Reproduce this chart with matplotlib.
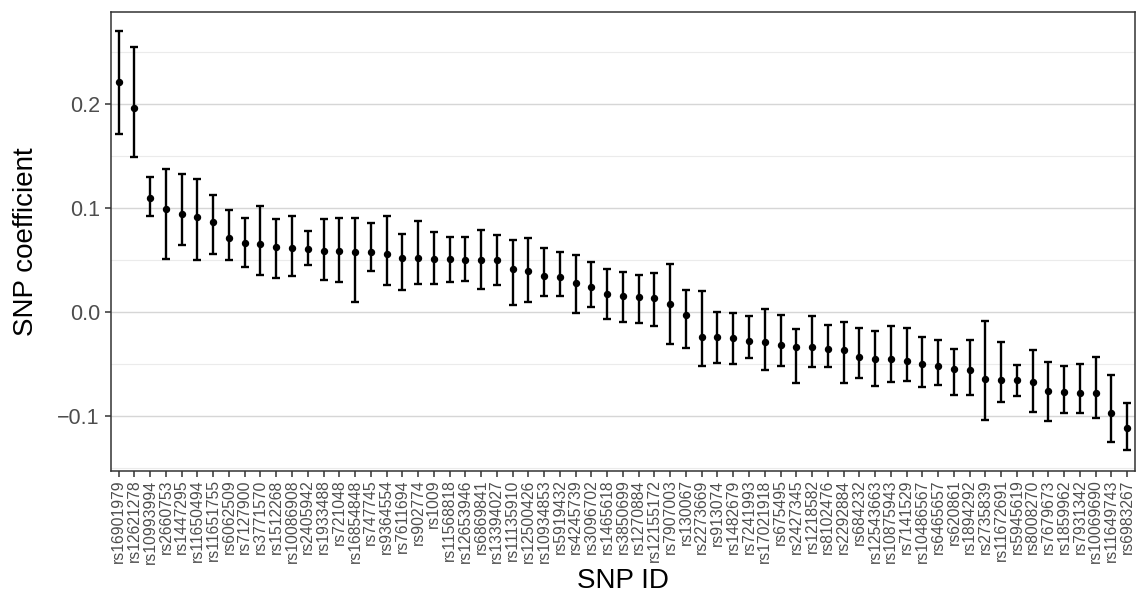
import matplotlib
matplotlib.use("Agg")
import matplotlib.pyplot as plt
import numpy as np

plt.rcParams["font.family"] = ["Liberation Sans", "DejaVu Sans"]

snp_ids = [
    "rs16901979", "rs12621278", "rs10993994", "rs2660753", "rs1447295",
    "rs11650494", "rs11651755", "rs6062509", "rs7127900", "rs3771570",
    "rs1512268", "rs10086908", "rs2405942", "rs1933488", "rs721048",
    "rs16854848", "rs747745", "rs9364554", "rs7611694", "rs902774",
    "rs1009", "rs11568818", "rs12653946", "rs6869841", "rs13394027",
    "rs11135910", "rs12500426", "rs10934853", "rs5919432", "rs4245739",
    "rs3096702", "rs1465618", "rs3850699", "rs1270884", "rs12155172",
    "rs7907003", "rs130067", "rs2273669", "rs913074", "rs1482679",
    "rs7241993", "rs17021918", "rs675495", "rs2427345", "rs1218582",
    "rs8102476", "rs2292884", "rs684232", "rs12543663", "rs10875943",
    "rs7141529", "rs10486567", "rs6465657", "rs620861", "rs1894292",
    "rs2735839", "rs11672691", "rs5945619", "rs8008270", "rs7679673",
    "rs1859962", "rs7931342", "rs10069690", "rs11649743", "rs6983267",
]

# point estimates and 95% CI bounds
coef = [
    0.221, 0.196, 0.110, 0.099, 0.094, 0.091, 0.0865, 0.071, 0.066, 0.065,
    0.063, 0.0615, 0.061, 0.059, 0.0587, 0.058, 0.0574, 0.0554, 0.0516, 0.0516,
    0.0513, 0.0506, 0.0503, 0.050, 0.0497, 0.0414, 0.0395, 0.0347, 0.0341, 0.0283,
    0.0242, 0.0172, 0.0153, 0.0143, 0.0138, 0.0074, -0.0029, -0.024, -0.0244, -0.0253,
    -0.0276, -0.0292, -0.032, -0.0333, -0.034, -0.0359, -0.0362, -0.0436, -0.0452, -0.0455,
    -0.0468, -0.0497, -0.0522, -0.0548, -0.0561, -0.0641, -0.065, -0.065, -0.0673, -0.0756,
    -0.0769, -0.0779, -0.0782, -0.0974, -0.1115,
]

ci_low = [
    0.171, 0.149, 0.092, 0.051, 0.064, 0.050, 0.056, 0.050, 0.043, 0.036,
    0.033, 0.035, 0.045, 0.031, 0.029, 0.0096, 0.039, 0.0258, 0.0213, 0.0268,
    0.0268, 0.0287, 0.0303, 0.0226, 0.0258, 0.0067, 0.0099, 0.0156, 0.0156, -0.001,
    0.0045, -0.0064, -0.0092, -0.0102, -0.0138, -0.031, -0.0343, -0.0516, -0.0487, -0.0503,
    -0.0442, -0.056, -0.0519, -0.0686, -0.0526, -0.0532, -0.068, -0.0631, -0.0712, -0.067,
    -0.0667, -0.0718, -0.0699, -0.0801, -0.0795, -0.1035, -0.0865, -0.0811, -0.0962, -0.1045,
    -0.0971, -0.0968, -0.1019, -0.125, -0.133,
]

ci_high = [
    0.270, 0.255, 0.130, 0.138, 0.133, 0.128, 0.113, 0.098, 0.090, 0.102,
    0.089, 0.092, 0.078, 0.089, 0.090, 0.090, 0.086, 0.092, 0.0755, 0.088,
    0.077, 0.0726, 0.0717, 0.0793, 0.0739, 0.0691, 0.071, 0.0615, 0.0576, 0.0548,
    0.0478, 0.0411, 0.0385, 0.036, 0.0378, 0.0465, 0.021, 0.0199, -0.0003, -0.001,
    -0.0042, 0.0029, -0.0029, -0.0163, -0.0035, -0.0128, -0.0096, -0.0157, -0.018, -0.0133,
    -0.0157, -0.024, -0.0266, -0.0353, -0.0272, -0.0083, -0.0288, -0.0506, -0.0362, -0.0481,
    -0.0519, -0.050, -0.0429, -0.0603, -0.0875,
]

x = np.arange(len(snp_ids))
coef = np.array(coef)
yerr = np.vstack([coef - np.array(ci_low), np.array(ci_high) - coef])

fig = plt.figure(figsize=(11.43, 6.0), dpi=100)
ax = fig.add_axes([0.0969, 0.2155, 0.8962, 0.765])

# ggplot-like grid: y only, minor lines lighter
for v in [0.25, 0.15, 0.05, -0.05, -0.15]:
    ax.axhline(v, color="#EBEBEB", lw=0.8, zorder=0)
for v in [0.2, 0.1, 0.0, -0.1]:
    ax.axhline(v, color="#D6D6D6", lw=1.0, zorder=0)

ax.errorbar(x, coef, yerr=yerr, fmt="o", color="black", ms=4.3,
            elinewidth=1.7, capsize=3.2, capthick=1.7, zorder=3)

ax.set_xlim(-0.5, len(snp_ids) - 0.5)
ax.set_ylim(-0.1526, 0.2888)
ax.set_yticks([-0.1, 0.0, 0.1, 0.2])
ax.set_yticklabels(["\u22120.1", "0.0", "0.1", "0.2"], fontsize=15.5)
ax.set_xticks(x)
ax.set_xticklabels(snp_ids, rotation=90, fontsize=11.3)

ax.tick_params(axis="both", colors="#333333", width=1.1, length=4.3,
               labelcolor="#4D4D4D")
ax.tick_params(axis="y", pad=3.5)
ax.tick_params(axis="x", pad=2)

for s in ax.spines.values():
    s.set_color("#333333")
    s.set_linewidth(1.1)

ax.set_xlabel("SNP ID", fontsize=20, labelpad=3)
ax.set_ylabel("SNP coefficient", fontsize=20)
ax.yaxis.set_label_coords(-0.07, 0.5)

fig.savefig("out.png", dpi=100)
